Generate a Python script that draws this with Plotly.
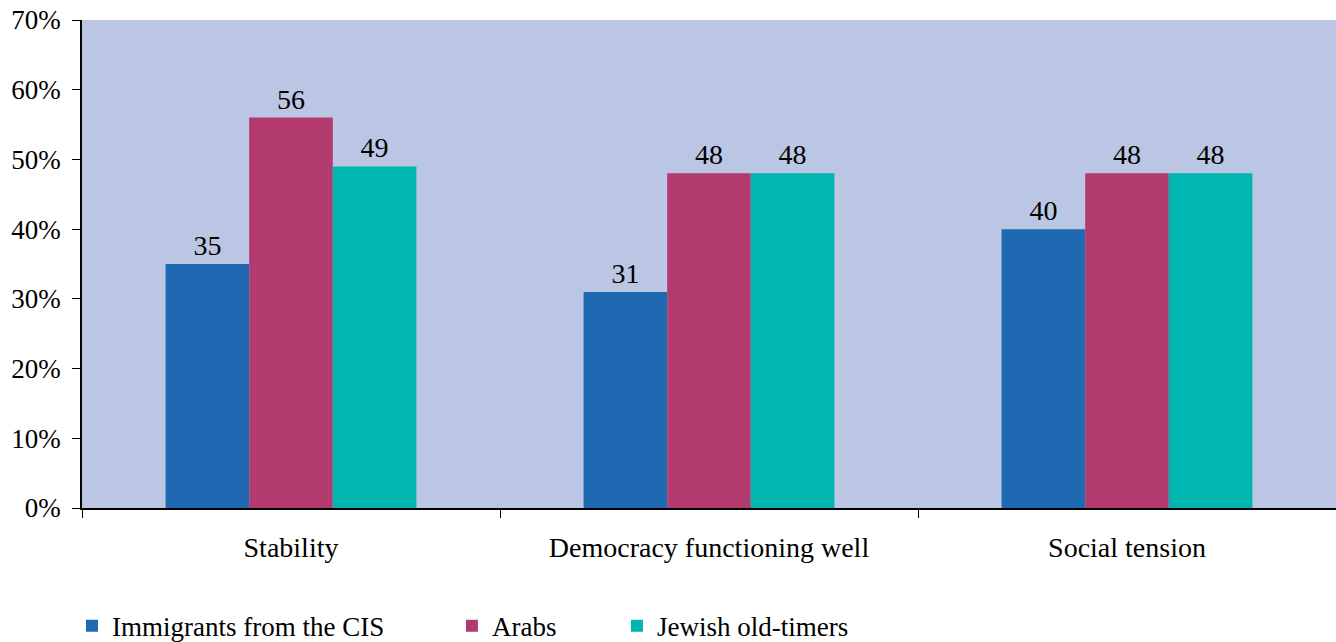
import plotly.graph_objects as go

# Survey results: share answering positively, by population group
categories = ["Stability", "Democracy functioning well", "Social tension"]
immigrants_cis = [35, 31, 40]
arabs = [56, 48, 48]
jewish_old_timers = [49, 48, 48]

series_names = ["Immigrants from the CIS", "Arabs", "Jewish old-timers"]
series_values = [immigrants_cis, arabs, jewish_old_timers]
series_colors = ["#1F69B3", "#B23A6E", "#00B6B0"]

FONT = "Liberation Serif, Times New Roman, serif"
FS = 28

# each legend entry gets its own legend box so the spacing can be set per item
legend_ids = ["legend", "legend2", "legend3"]
legend_x = [-0.008, 0.295, 0.4266]

fig = go.Figure()
for name, vals, color, lid in zip(series_names, series_values, series_colors, legend_ids):
    fig.add_trace(go.Bar(
        x=categories,
        y=vals,
        name=name,
        marker=dict(color=color, line=dict(width=0)),
        text=[str(v) for v in vals],
        textposition="outside",
        textfont=dict(family=FONT, size=FS, color="black"),
        cliponaxis=False,
        legend=lid,
    ))

layout_legends = {}
for lid, lx in zip(legend_ids, legend_x):
    layout_legends[lid] = dict(
        x=lx, y=-0.242, xanchor="left", yanchor="middle",
        orientation="h",
        font=dict(family=FONT, size=FS - 1, color="black"),
        bgcolor="rgba(0,0,0,0)",
        borderwidth=0,
        itemclick=False,
    )

fig.update_layout(
    width=1336,
    height=642,
    margin=dict(l=82, r=0, t=20, b=134, autoexpand=False),
    paper_bgcolor="white",
    plot_bgcolor="#BBC5E4",
    barmode="group",
    bargap=0.4,
    bargroupgap=0,
    showlegend=True,
    font=dict(family=FONT, size=FS, color="black"),
    **layout_legends,
)

fig.update_xaxes(
    showgrid=False,
    showline=True,
    linecolor="black",
    linewidth=1.5,
    ticks="outside",
    tickson="boundaries",
    ticklen=8,
    tickcolor="black",
    tickfont=dict(family=FONT, size=FS, color="black"),
    ticklabelstandoff=14,
)

fig.update_yaxes(
    range=[0, 70],
    dtick=10,
    ticksuffix="%",
    showgrid=False,
    zeroline=False,
    showline=True,
    linecolor="black",
    linewidth=1.5,
    ticks="outside",
    ticklen=8,
    tickcolor="black",
    tickfont=dict(family=FONT, size=FS - 1, color="black"),
    ticklabelstandoff=6,
)

fig.write_html("out.html")
